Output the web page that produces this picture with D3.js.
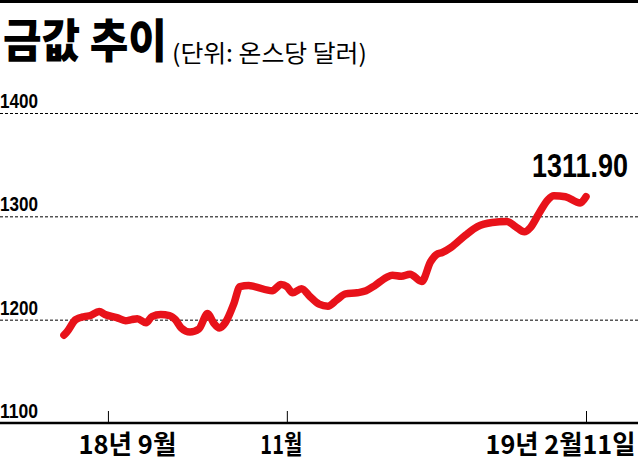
<!DOCTYPE html>
<html>
<head>
<meta charset="utf-8">
<script src="https://cdn.jsdelivr.net/npm/d3@7"></script>
<style>
  body { margin: 0; background: #fff; }
  svg { display: block; }
</style>
</head>
<body>
<div id="vis1"></div>
<script>
// data
const DATES = ["2018-08-17","2018-08-18","2018-08-21","2018-08-24","2018-08-26","2018-08-29","2018-08-31",
  "2018-09-04","2018-09-07","2018-09-09","2018-09-11","2018-09-14","2018-09-16","2018-09-19","2018-09-22",
  "2018-09-24","2018-09-26","2018-09-29","2018-10-02","2018-10-05","2018-10-07","2018-10-09","2018-10-11",
  "2018-10-14","2018-10-16","2018-10-19","2018-10-21","2018-10-27","2018-10-30","2018-11-01","2018-11-03",
  "2018-11-06","2018-11-09","2018-11-12","2018-11-15","2018-11-18","2018-11-21","2018-11-25","2018-11-28",
  "2018-12-01","2018-12-05","2018-12-07","2018-12-10","2018-12-13","2018-12-17","2018-12-20","2018-12-22",
  "2018-12-24","2018-12-27","2019-01-01","2019-01-05","2019-01-10","2019-01-15","2019-01-18","2019-01-21",
  "2019-01-23","2019-01-26","2019-01-29","2019-01-31","2019-02-04","2019-02-09","2019-02-11"];
const PRICES = [1185,1188,1200,1203,1204,1208,1205,
  1202,1199,1200,1201,1197,1203,1205,1204,
  1200,1192,1188,1191,1206,1197,1192,1197,
  1216,1232,1233,1232,1228,1234,1232,1226,
  1230,1222,1215,1213,1219,1225,1226,1228,
  1233,1241,1243,1242,1244,1237,1256,1263,
  1265,1270,1282,1290,1294,1295,1290,1285,
  1289,1303,1316,1320,1319,1313,1319];
const Y_TICKS = [1100, 1200, 1300, 1400];
const X_TICKS = ["2018-09-01", "2018-11-01", "2019-02-11"];
const X_LABELS = ["18년 9월", "11월", "19년 2월11일"];
const TITLE = "금값 추이";
const SUBTITLE = "(단위: 온스당 달러)";
const LAST_LABEL = "1311.90";

const FRAME_WIDTH = 638;
const FRAME_HEIGHT = 460;
const parse = d3.timeParse("%Y-%m-%d");

const FRAME1 = d3.select("#vis1")
  .append("svg")
    .attr("width", FRAME_WIDTH)
    .attr("height", FRAME_HEIGHT);

const X_SCALE = d3.scaleTime()
  .domain([parse("2018-08-16"), parse("2019-02-11")])
  .range([61, 586]);
const Y_SCALE = d3.scaleLinear()
  .domain([1100, 1400])
  .range([423, 113]);

const NUM_FONT = "'Liberation Sans Narrow', 'Liberation Sans', sans-serif";
const KR_FONT = "'Noto Sans CJK KR', 'Liberation Sans', sans-serif";

// squeeze a text horizontally so it is w px wide, left edge at x
function squeeze(node, x, y, w) {
  const t = d3.select(node).attr("x", 0).attr("y", 0).attr("dy", 0);
  const n = node.getComputedTextLength();
  t.attr("transform", "translate(" + x + "," + y + ") scale(" + (w / n) + ",1)");
}

// top bar
FRAME1.append("rect")
  .attr("x", 0).attr("y", 0)
  .attr("width", FRAME_WIDTH).attr("height", 3)
  .attr("fill", "#000");

// title
const title = FRAME1.append("text")
  .attr("font-family", KR_FONT)
  .attr("font-weight", 900)
  .attr("font-size", 46)
  .text(TITLE);
squeeze(title.node(), 3, 57, 164);
const sub = FRAME1.append("text")
  .attr("font-family", KR_FONT)
  .attr("font-size", 24)
  .text(SUBTITLE);
squeeze(sub.node(), 172, 62, 195);

// gridlines + y labels
const grid = FRAME1.append("g");
grid.selectAll("line")
  .data(Y_TICKS.filter((d) => d > 1100))
  .enter()
  .append("line")
    .attr("x1", 0).attr("x2", FRAME_WIDTH)
    .attr("y1", (d) => Y_SCALE(d) + 0.5)
    .attr("y2", (d) => Y_SCALE(d) + 0.5)
    .attr("stroke", "#000")
    .attr("stroke-width", 1)
    .attr("stroke-dasharray", "3,2");
grid.selectAll("text")
  .data(Y_TICKS)
  .enter()
  .append("text")
    .attr("font-family", NUM_FONT)
    .attr("font-weight", 600)
    .attr("font-size", 21)
    .text((d) => d)
    .each(function(d) { squeeze(this, 0, Y_SCALE(d) - 5, 38); });

// x axis
const xAxis = FRAME1.append("g")
  .attr("transform", "translate(0," + Y_SCALE(1100) + ")")
  .call(d3.axisBottom(X_SCALE)
    .tickValues(X_TICKS.map(parse))
    .tickSizeInner(-12)
    .tickSizeOuter(0)
    .tickFormat((d, i) => X_LABELS[i]));
xAxis.select(".domain").remove();
xAxis.selectAll(".tick line").attr("stroke", "#000").attr("stroke-width", 1);
// label left edge relative to its tick, and label width
const LABEL_DX = [-30, -27, -101];
const LABEL_W = [98, 42, 150];
xAxis.selectAll(".tick text")
  .attr("text-anchor", "start")
  .attr("fill", "#000")
  .attr("font-family", KR_FONT)
  .attr("font-weight", 700)
  .attr("font-size", 26)
  .each(function(d, i) { squeeze(this, LABEL_DX[i], 31, LABEL_W[i]); });
FRAME1.append("line")
  .attr("x1", 0).attr("x2", FRAME_WIDTH)
  .attr("y1", Y_SCALE(1100)).attr("y2", Y_SCALE(1100))
  .attr("stroke", "#000")
  .attr("stroke-width", 2.5);

// price line
const points = DATES.map((d, i) => ({date: parse(d), value: PRICES[i]}));
FRAME1.append("path")
  .datum(points)
  .attr("fill", "none")
  .attr("stroke", "#e8121a")
  .attr("stroke-width", 7.5)
  .attr("stroke-linecap", "round")
  .attr("stroke-linejoin", "round")
  .attr("d", d3.line()
    .x((d) => X_SCALE(d.date))
    .y((d) => Y_SCALE(d.value))
    .curve(d3.curveMonotoneX));

// last value label
const last = points[points.length - 1];
const lastLabel = FRAME1.append("text")
  .attr("font-family", NUM_FONT)
  .attr("font-weight", 700)
  .attr("font-size", 34)
  .text(LAST_LABEL);
squeeze(lastLabel.node(), X_SCALE(last.date) - 54, 177, 96);
</script>
</body>
</html>
